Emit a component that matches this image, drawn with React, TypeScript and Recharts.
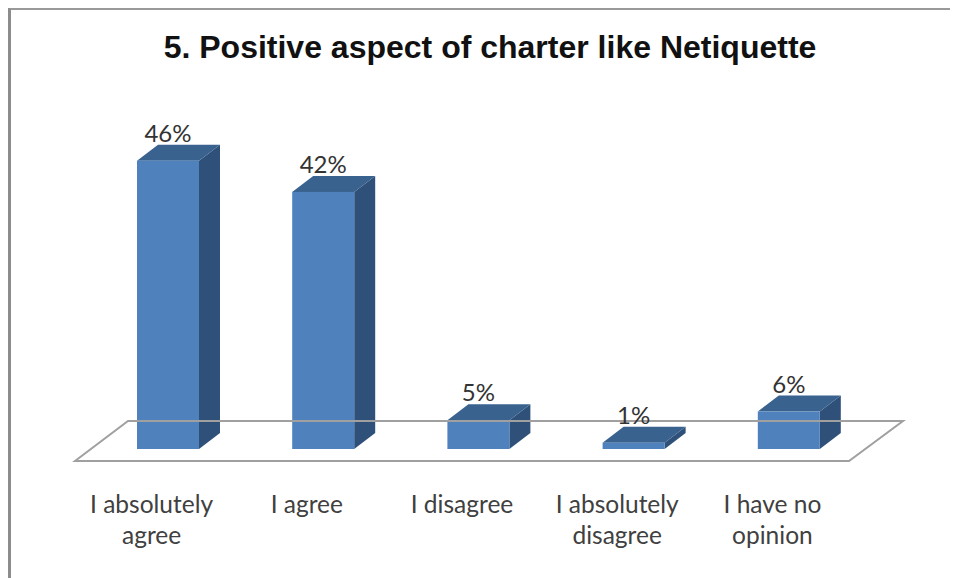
import { BarChart, Bar, XAxis, YAxis, LabelList, ReferenceLine } from "recharts";

const categories = ["I absolutely agree", "I agree", "I disagree", "I absolutely disagree", "I have no opinion"];
const tickLines = [["I absolutely", "agree"], ["I agree"], ["I disagree"], ["I absolutely", "disagree"], ["I have no", "opinion"]];
// bar heights, the printed labels are rounded
const shares = [46.2, 41.2, 4.6, 1, 6];
const shareLabels = ["46%", "42%", "5%", "1%", "6%"];

const data = categories.map((name, i) => ({ name, share: shares[i], label: shareLabels[i] }));

const labelFont = "Lato, 'Open Sans', sans-serif";
const depthX = 21;
const depthY = 16;

function Bar3D({ x, y, width, height }: any) {
  const r = x + width;
  const b = y + height;
  return (
    <g>
      <polygon points={`${r},${y} ${r + depthX},${y - depthY} ${r + depthX},${b - depthY} ${r},${b}`} fill="#2f5179" />
      <polygon points={`${x},${y} ${x + depthX},${y - depthY} ${r + depthX},${y - depthY} ${r},${y}`} fill="#39628f" />
      <rect x={x} y={y} width={width} height={height} fill="#4f81bd" />
    </g>
  );
}

function Floor({ x1, x2, y1 }: any) {
  const a = x1 ?? 90;
  const c = x2 ?? 866;
  const y = y1 ?? 449;
  return (
    <polygon
      points={`${a - 15},${y + 12} ${a + 38},${y - 28} ${c + 37},${y - 28} ${c - 17},${y + 12}`}
      fill="none"
      stroke="#a0a0a0"
      strokeWidth={2}
    />
  );
}

function CategoryTick({ x, y, index }: any) {
  return (
    <text x={x - 16} y={y} textAnchor="middle" fontFamily={labelFont} fontSize={24.5} fill="#404040">
      {tickLines[index].map((line, i) => (
        <tspan key={line} x={x - 16} y={513 + i * 31}>
          {line}
        </tspan>
      ))}
    </text>
  );
}

export default function App() {
  return (
    <div style={{ position: "relative", width: 958, height: 578, margin: "-8px -8px 0 -8px", background: "#fff", overflow: "hidden" }}>
      <div style={{ position: "absolute", left: 8, top: 7, width: 950, height: 571, borderLeft: "3px solid #8c8c8c", borderTop: "3px solid #999" }} />
      <div style={{ position: "absolute", left: 0, right: 0, top: 29, textAlign: "center", fontFamily: "'Liberation Sans', Arial, sans-serif", fontWeight: 700, fontSize: 32, color: "#111", paddingLeft: 22, boxSizing: "border-box", whiteSpace: "nowrap" }}>
        5. Positive aspect of charter like Netiquette
      </div>
      <BarChart
        width={958}
        height={578}
        data={data}
        margin={{ top: 137, right: 92, bottom: 0, left: 90 }}
        barSize={62}
        style={{ position: "absolute", left: 0, top: 0 }}
      >
        <XAxis dataKey="name" height={129} axisLine={false} tickLine={false} interval={0} tick={<CategoryTick />} />
        <YAxis hide domain={[0, 50]} />
        <ReferenceLine y={0} shape={<Floor />} ifOverflow="visible" />
        <Bar dataKey="share" shape={<Bar3D />} isAnimationActive={false}>
          <LabelList
            dataKey="label"
            position="top"
            offset={19}
            style={{ fontFamily: labelFont, fontSize: 24, fill: "#333" }}
          />
        </Bar>
      </BarChart>
    </div>
  );
}
